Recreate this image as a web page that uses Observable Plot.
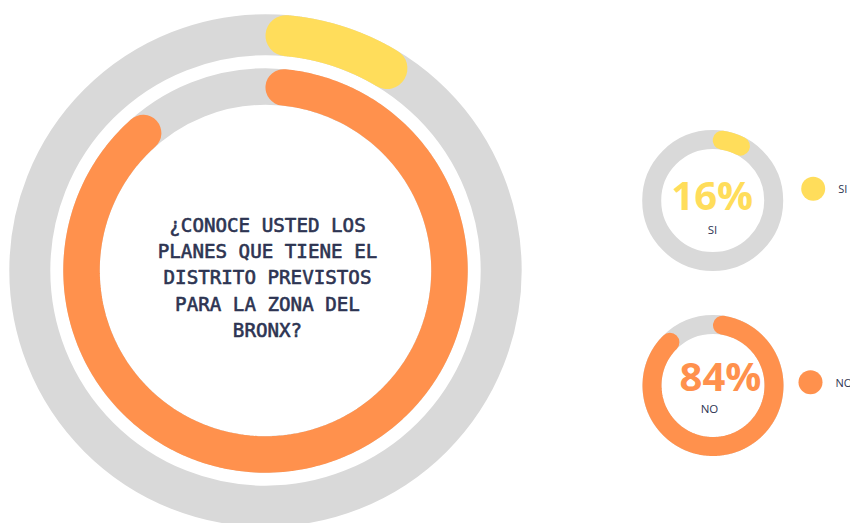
<!DOCTYPE html>
<html>
<head>
<meta charset="utf-8">
<script src="https://cdn.jsdelivr.net/npm/d3@7"></script>
<script src="https://cdn.jsdelivr.net/npm/@observablehq/plot@0.6"></script>
<style>
  html, body { margin: 0; padding: 0; background: #ffffff; }
</style>
</head>
<body>
<div id="chart"></div>
<script>
// ---- data ----
const categories = ["SI", "NO"];
const percentLabels = [16, 84];          // printed values
const arcShare = [10, 90];               // drawn arc extent (% of full circle) as seen in the picture
const colors = ["#ffdd5b", "#ff914d"];
const question = "¿CONOCE USTED LOS\nPLANES QUE TIENE EL\nDISTRITO PREVISTOS\nPARA LA ZONA DEL\nBRONX?";

// ---- layout ----
const W = 850, H = 523;
const gray = "#d9d9d9";
const navy = "#2d3452";
const big = {cx: 265, cy: 270};
const bigRings = [ {r: 235.7, w: 41}, {r: 184, w: 36.5} ];          // SI outer, NO inner
const small = [ {cx: 712.2, cy: 200, r: 61, w: 19}, {cx: 712.5, cy: 385, r: 61, w: 19} ];

const angle = d3.scaleLinear().domain([0, 100]).range([0, 2 * Math.PI]);

function arcPoints(cx, cy, r, w, share, key) {
  const cap = (w / 2) / r;
  const a0 = cap, a1 = angle(share) - cap;
  const n = 240;
  return d3.range(n + 1).map(i => {
    const a = a0 + (a1 - a0) * i / n;
    return {x: cx + r * Math.sin(a), y: cy - r * Math.cos(a), key};
  });
}

const arcs = [];
categories.forEach((c, i) => {
  const g = bigRings[i];
  arcs.push({pts: arcPoints(big.cx, big.cy, g.r, g.w, arcShare[i], "big" + c), color: colors[i], w: g.w});
  const s = small[i];
  arcs.push({pts: arcPoints(s.cx, s.cy, s.r, s.w, arcShare[i], "small" + c), color: colors[i], w: s.w});
});

const ringBg = [
  {x: big.cx, y: big.cy, r: bigRings[0].r, w: bigRings[0].w},
  {x: big.cx, y: big.cy, r: bigRings[1].r, w: bigRings[1].w},
  {x: small[0].cx, y: small[0].cy, r: small[0].r, w: small[0].w},
  {x: small[1].cx, y: small[1].cy, r: small[1].r, w: small[1].w}
];

const marks = [];
ringBg.forEach(d => marks.push(Plot.dot([d], {x: "x", y: "y", r: d.r, fill: "none", stroke: gray, strokeWidth: d.w})));
arcs.forEach(a => marks.push(Plot.line(a.pts, {x: "x", y: "y", stroke: a.color, strokeWidth: a.w, strokeLinecap: "round", strokeLinejoin: "round", curve: "linear"})));

// question text
marks.push(Plot.text([question], {x: () => 267, y: () => 275.5, text: d => d, fontFamily: "DejaVu Sans Mono", fontSize: 19.2, fontWeight: "normal", fill: navy, stroke: navy, strokeWidth: 0.6, lineHeight: 1.37, textAnchor: "middle"}));

// percentage labels in the small donuts
const pctPos = [ {x: 711.7, y: 197}, {x: 720, y: 378} ];
const catPos = [ {x: 712, y: 230}, {x: 709, y: 409} ];
categories.forEach((c, i) => {
  marks.push(Plot.text([percentLabels[i] + "%"], {x: () => pctPos[i].x, y: () => pctPos[i].y, text: d => d, fontFamily: "Open Sans", fontWeight: "bold", fontSize: 40, fill: colors[i], textAnchor: "middle"}));
  marks.push(Plot.text([c], {x: () => catPos[i].x, y: () => catPos[i].y, text: d => d, fontFamily: "Open Sans", fontSize: 11.5, fill: navy, textAnchor: "middle"}));
});

// legend
const legPos = [ {x: 812.7, y: 188.3}, {x: 810, y: 381.7} ];
categories.forEach((c, i) => {
  marks.push(Plot.dot([c], {x: () => legPos[i].x, y: () => legPos[i].y, r: 12, fill: colors[i], stroke: "none"}));
  marks.push(Plot.text([c], {x: () => legPos[i].x + 25, y: () => legPos[i].y + 1, text: d => d, fontFamily: "Open Sans", fontSize: 11, fill: navy, textAnchor: "start"}));
});

const chart = Plot.plot({
  width: W, height: H, margin: 0,
  style: {background: "#ffffff", overflow: "hidden"},
  x: {domain: [0, W], range: [0, W], axis: null},
  y: {domain: [0, H], range: [0, H], axis: null},
  marks
});
document.getElementById("chart").appendChild(chart);
</script>
</body>
</html>
